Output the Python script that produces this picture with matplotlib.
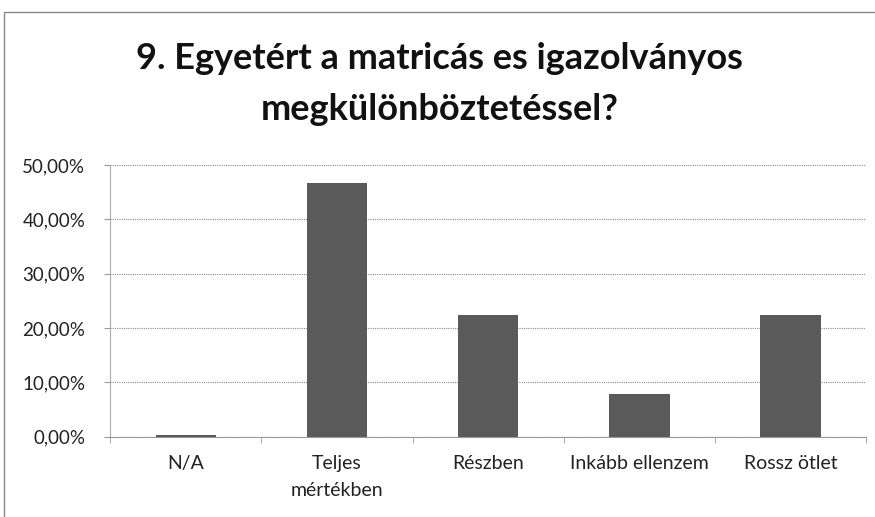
import matplotlib
matplotlib.use("Agg")
import matplotlib.pyplot as plt
from matplotlib.patches import Rectangle
from matplotlib.ticker import FuncFormatter, MultipleLocator

categories = ["N/A", "Teljes\nmértékben", "Részben", "Inkább ellenzem", "Rossz ötlet"]
values = [0.3, 46.6, 22.4, 7.8, 22.4]
title_lines = ["9. Egyetért a matricás es igazolványos", "megkülönböztetéssel?"]

plt.rcParams['font.family'] = ['Lato', 'DejaVu Sans']

fig = plt.figure(figsize=(8.75, 5.17), dpi=100)
ax = fig.add_axes([0.126, 0.155, 0.864, 0.526])

x = list(range(len(categories)))
ax.bar(x, values, width=0.4, color="#5a5a5a", zorder=3)
ax.set_xlim(-0.5, len(categories) - 0.5)
ax.set_ylim(0, 50)
ax.yaxis.set_major_locator(MultipleLocator(10))
ax.yaxis.set_major_formatter(FuncFormatter(lambda v, p: f"{v:.2f}".replace(".", ",") + "%"))
ax.grid(axis="y", color="#8a8a8a", linewidth=0.8, linestyle=(0, (1, 1)), zorder=0)

ax.set_xticks(x)
ax.set_xticklabels(categories, fontsize=14, color="#222222", linespacing=1.75)
ax.set_xticks([i - 0.5 for i in range(len(categories) + 1)], minor=True)
ax.tick_params(axis="x", which="major", length=0, pad=13)
ax.tick_params(axis="x", which="minor", length=4, color="#999999", direction="out")
ax.tick_params(axis="y", length=4, color="#999999", labelsize=13.5, labelcolor="#222222", pad=14)

for s in ["top", "right"]:
    ax.spines[s].set_visible(False)
ax.spines["left"].set_color("#aaaaaa")
ax.spines["left"].set_linestyle((0, (1, 1)))
ax.spines["bottom"].set_color("#999999")

fig.text(0.502, 1 - 69 / 517, title_lines[0], ha="center", va="baseline", fontsize=26,
         fontweight="bold", color="#111111")
fig.text(0.502, 1 - 120 / 517, title_lines[1], ha="center", va="baseline", fontsize=26,
         fontweight="bold", color="#111111")

border = Rectangle((0.005, -0.1), 1.2, 1.077, transform=fig.transFigure, fill=False,
                   edgecolor="#888888", linewidth=1.0)
fig.patches.append(border)

fig.savefig("out.png", dpi=100, facecolor="white")
